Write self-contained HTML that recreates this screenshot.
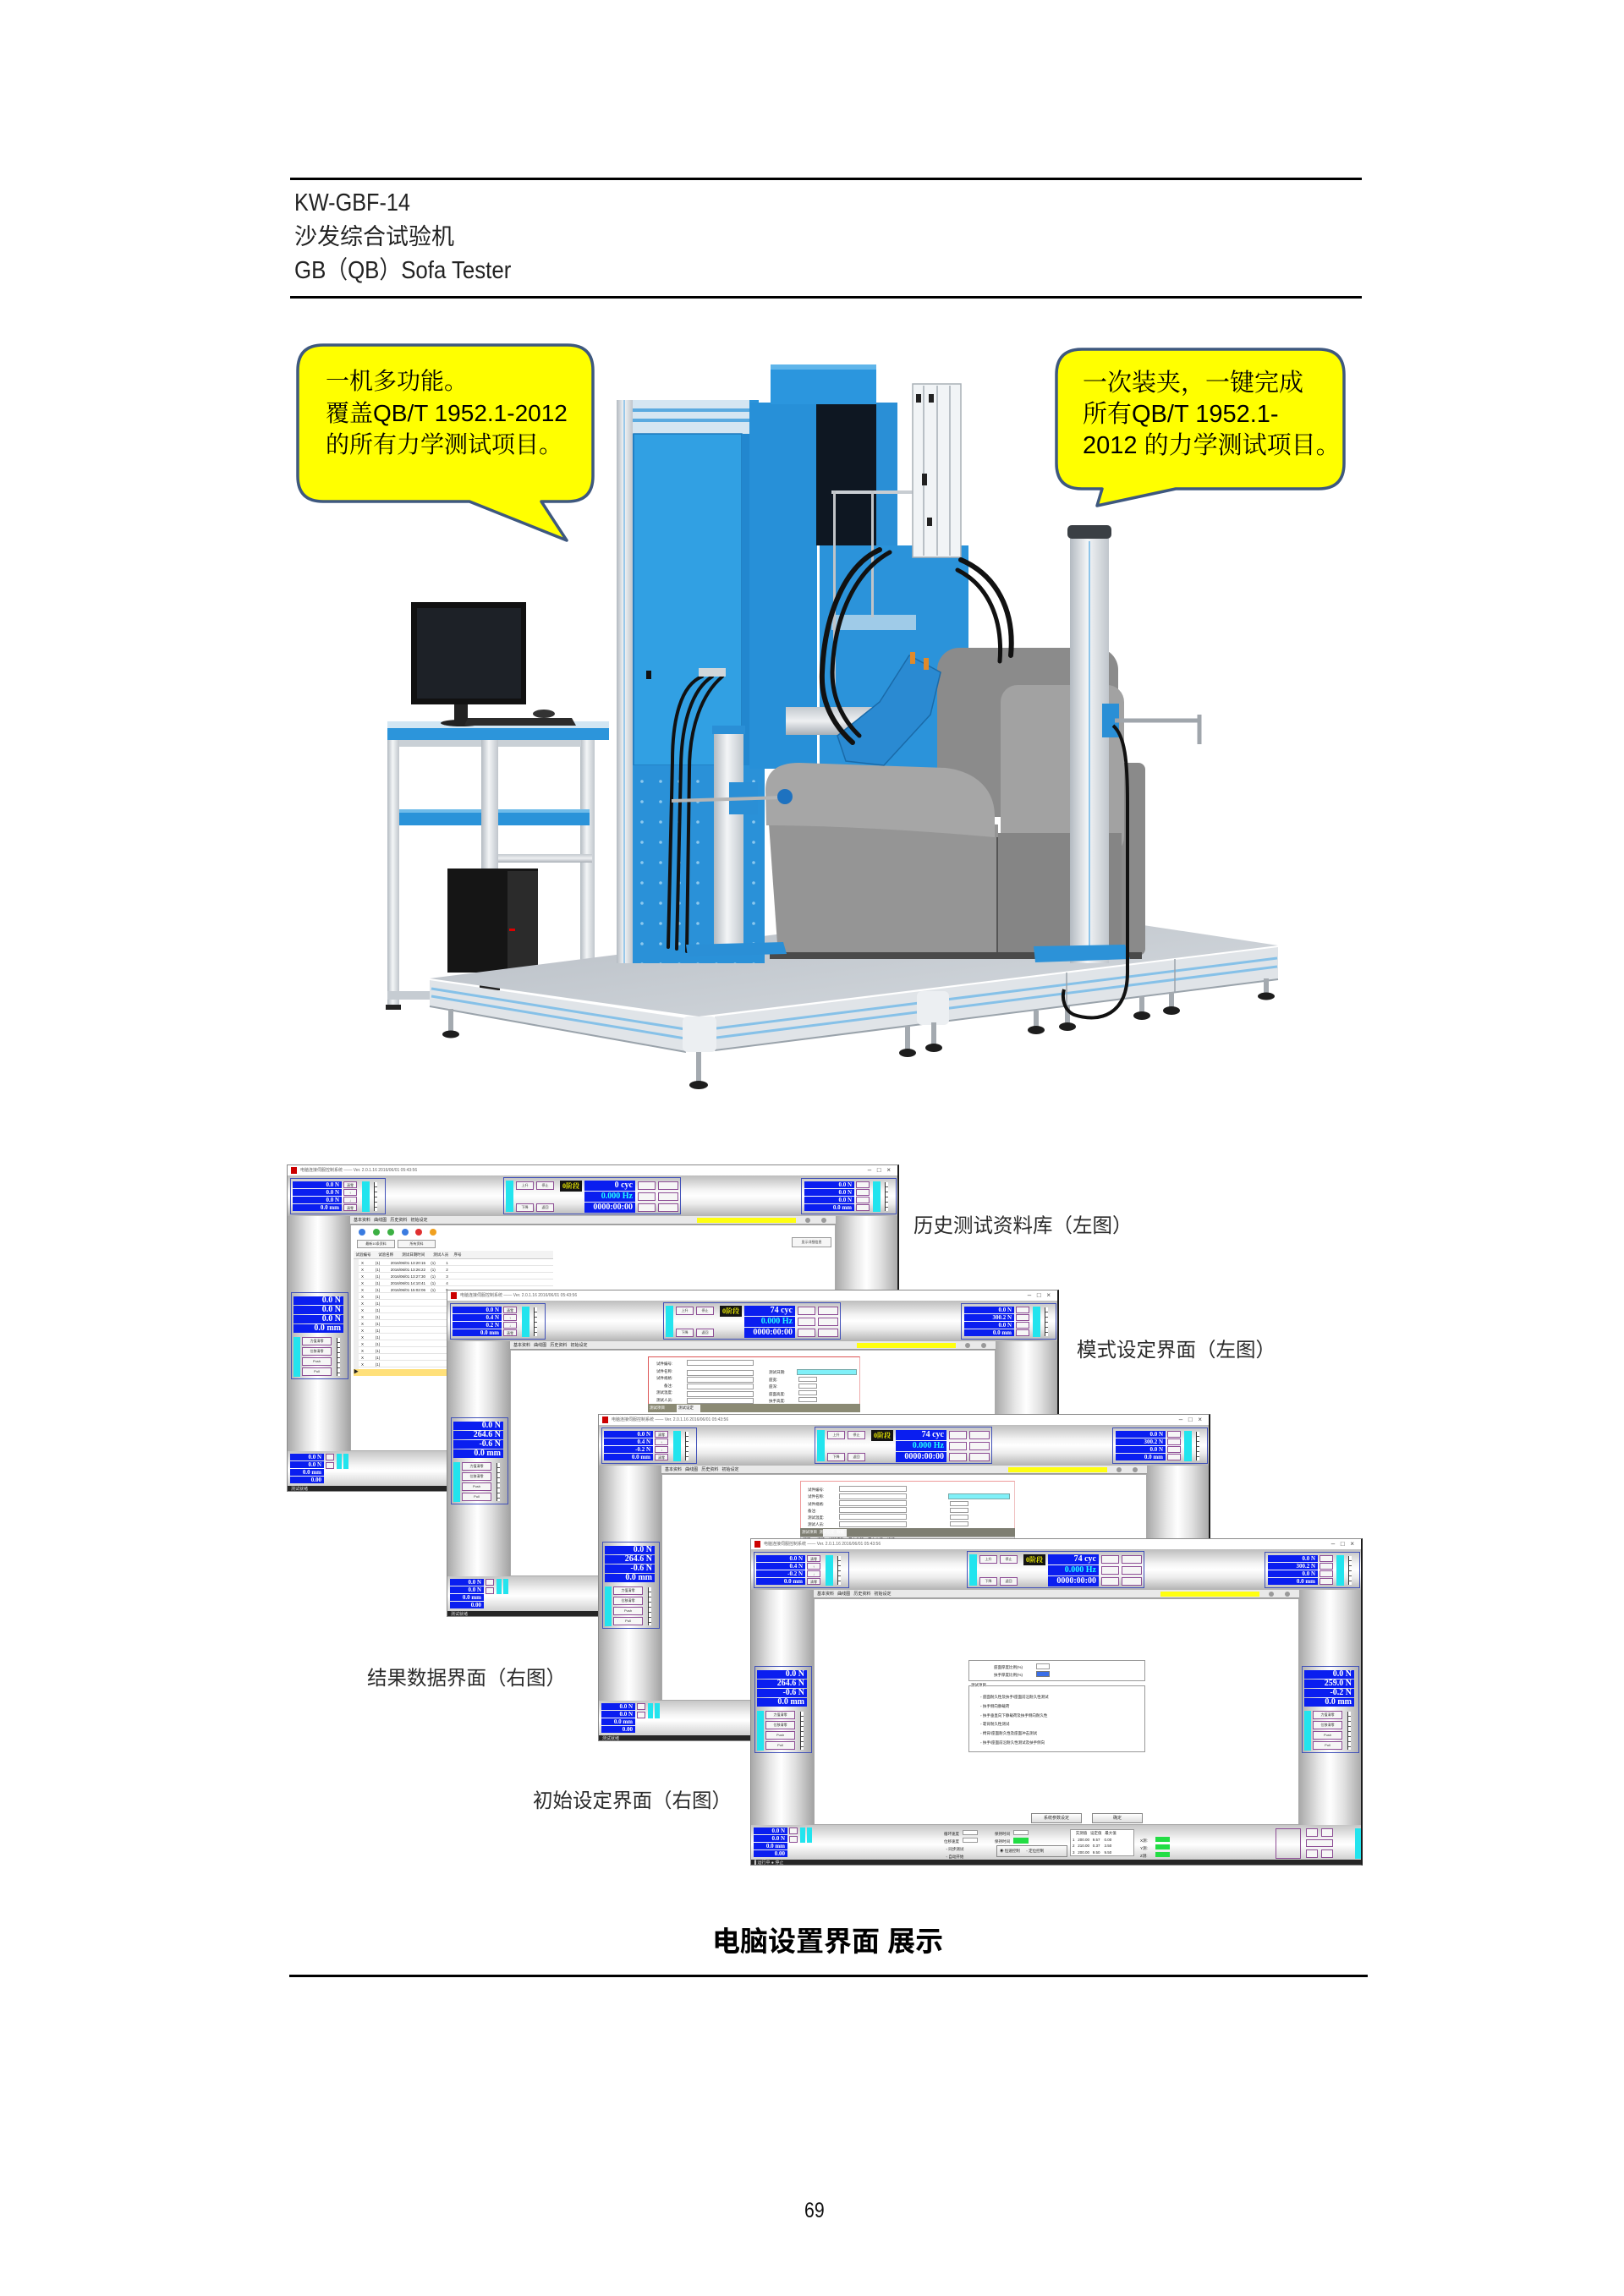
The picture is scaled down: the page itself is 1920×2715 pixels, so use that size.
<!DOCTYPE html>
<html><head><meta charset="utf-8">
<style>
html,body{margin:0;padding:0;background:#fff;}
body{width:1920px;height:2715px;position:relative;overflow:hidden;font-family:"Liberation Sans","Noto Sans CJK SC",sans-serif;}
.a{position:absolute;white-space:nowrap;}
.hl{position:absolute;left:343px;width:1267px;height:3px;background:#000;}
.ct1{font-family:"Liberation Sans","Noto Serif CJK SC",serif;color:#000;}
.lab{font-size:23.5px;line-height:30px;color:#2b2b2b;font-family:"Liberation Sans","Noto Sans CJK SC",sans-serif;}
/* screenshots */
.ss{position:absolute;width:724px;height:387px;background:#f2f2f2;overflow:hidden;border:1px solid #8a8a8a;border-right:2px solid #1c1c1c;box-sizing:border-box;font-family:"Liberation Sans","Noto Sans CJK SC",sans-serif;}
.ss div{position:absolute;box-sizing:border-box;}
.ss .tt{left:0;top:0;width:100%;height:12px;background:#fff;font-size:5px;line-height:12px;color:#666;padding-left:15px;white-space:nowrap;}
.ss .tt i{position:absolute;left:4px;top:2px;width:7px;height:8px;background:#c00;display:block;}
.ss .tt b{position:absolute;right:8px;top:0;font-weight:normal;font-size:8px;color:#444;}
.ss .tl{left:0;top:12px;width:100%;height:48px;background:linear-gradient(#bdbdbd,#f3f3f3 35%,#fff 50%,#ececec 70%,#b3b3b3);}
.ss .fr{border:1px solid #4050b8;}
.ss .q{display:flex;flex-direction:column;gap:1px;}
.ss .q p{margin:0;height:8px;background:#0a1ef0;color:#fff;font:bold 7px/8px "Liberation Serif",serif;text-align:right;padding-right:3px;}
.ss .Q p{height:10px;font-size:10px;line-height:10px;}
.ss .c{background:#22e4ee;}
.ss .b{background:#f6f6f6;border:1px solid #8d4d95;font-size:4px;line-height:7px;color:#333;text-align:center;overflow:hidden;}
.ss .k{background:#141414;color:#e8e800;font:bold 8px/13px "Liberation Serif","Noto Serif CJK SC",serif;text-align:center;}
.ss .v{background:#0a1ef0;color:#fff;font:bold 10px/12px "Liberation Serif",serif;text-align:right;padding-right:3px;}
.ss .sc{border-left:1px solid #333;background:repeating-linear-gradient(#fff 0 5px,#555 5px 6px);width:4px!important;}
.ss .tab{left:74px;top:60px;width:574px;height:10px;background:#e9e9e9;border-bottom:1px solid #999;font-size:5px;line-height:10px;padding-left:4px;color:#222;white-space:pre;}
.ss .y{background:#ffff10;}
.ss .dt{width:6px;height:6px;border-radius:50%;background:#999;}
.ss .lp{left:0;top:60px;width:74px;height:278px;background:linear-gradient(to right,#a9a9a9,#e6e6e6 30%,#fff 48%,#e0e0e0 70%,#a3a3a3);}
.ss .rp{left:648px;top:60px;width:76px;height:278px;background:linear-gradient(to right,#a9a9a9,#e6e6e6 30%,#fff 48%,#e0e0e0 70%,#a3a3a3);}
.ss .cn{left:74px;top:70px;width:574px;height:268px;background:#fff;border:1px solid #aaa;}
.ss .bb{left:0;top:338px;width:100%;height:42px;background:linear-gradient(#c6c6c6,#f5f5f5 40%,#fff 55%,#cecece);}
.ss .st{left:0;top:379px;width:100%;height:8px;background:#262626;color:#ddd;font-size:5px;line-height:8px;padding-left:4px;}
.ss .f{background:#fff;border:1px solid #9a9a9a;}
.ss .t{font-size:4.5px;line-height:6px;color:#222;white-space:pre;}
.ss .g{background:#22dd44;}
</style></head><body>

<!-- header -->
<div class="hl" style="top:210px"></div>
<div class="a" style="left:348px;top:224px;font-size:29px;line-height:32px;color:#222;transform:scaleX(.87);transform-origin:0 0;">KW-GBF-14</div>
<div class="a" style="left:348px;top:264px;font-size:27px;line-height:32px;color:#222;">沙发综合试验机</div>
<div class="a" style="left:348px;top:304px;font-size:29px;line-height:32px;color:#222;transform:scaleX(.89);transform-origin:0 0;">GB（QB）Sofa Tester</div>
<div class="hl" style="top:350px"></div>

<!-- photo + callouts -->
<svg style="position:absolute;left:0;top:0" width="1920" height="1320" viewBox="0 0 1920 1320">
<defs>
<linearGradient id="sil" x1="0" x2="1" y1="0" y2="0"><stop offset="0" stop-color="#b3bac1"/><stop offset=".45" stop-color="#f3f5f7"/><stop offset="1" stop-color="#c0c6cc"/></linearGradient>
<linearGradient id="silv" x1="0" x2="0" y1="0" y2="1"><stop offset="0" stop-color="#c3c9cf"/><stop offset=".5" stop-color="#eef0f2"/><stop offset="1" stop-color="#a8afb6"/></linearGradient>
<linearGradient id="plat" x1="0" x2="1" y1="0" y2="1"><stop offset="0" stop-color="#b6bcc3"/><stop offset="1" stop-color="#d6dbe0"/></linearGradient>
<linearGradient id="blu" x1="0" x2="1" y1="0" y2="0"><stop offset="0" stop-color="#2389d0"/><stop offset=".5" stop-color="#34a2e6"/><stop offset="1" stop-color="#2590d8"/></linearGradient>
<pattern id="dots" width="22" height="24" patternUnits="userSpaceOnUse"><circle cx="11" cy="12" r="1.8" fill="#8cc8ee"/></pattern>
</defs>

<!-- callouts -->
<path d="M382,408 H671 Q701,408 701,438 V563 Q701,593 671,593 H640 L670,639 L555,593 H382 Q352,593 352,563 V438 Q352,408 382,408 Z" fill="#ffff00" stroke="#3e587f" stroke-width="3.5" stroke-linejoin="round"/>
<path d="M1279,413 H1559 Q1589,413 1589,443 V548 Q1589,578 1559,578 H1390 L1297,598 L1303,578 H1279 Q1249,578 1249,548 V443 Q1249,413 1279,413 Z" fill="#ffff00" stroke="#3e587f" stroke-width="3.5" stroke-linejoin="round"/>

<!-- desk -->
<rect x="686" y="875" width="17" height="275" fill="url(#sil)"/>
<rect x="575" y="1010" width="125" height="10" fill="url(#silv)"/>
<rect x="472" y="875" width="215" height="8" fill="#c9d0d6"/>
<rect x="461" y="957" width="236" height="19" fill="#2a93d9"/>
<rect x="461" y="957" width="236" height="4" fill="#6fbbe9"/>
<rect x="458" y="875" width="14" height="315" fill="url(#sil)"/>
<rect x="569" y="875" width="20" height="292" fill="url(#sil)"/>
<rect x="458" y="1172" width="62" height="10" fill="#c6ccd2"/>
<rect x="456" y="1188" width="18" height="6" fill="#222"/>
<rect x="567" y="1165" width="24" height="6" fill="#222"/>
<rect x="458" y="853" width="262" height="8" fill="#d2e6f3"/>
<rect x="458" y="861" width="262" height="14" fill="#2c95db"/>
<!-- pc tower -->
<rect x="529" y="1027" width="107" height="123" fill="#151515"/>
<rect x="600" y="1030" width="36" height="118" fill="#2b2b2b"/>
<rect x="602" y="1098" width="7" height="3" fill="#d00"/>
<!-- monitor -->
<rect x="486" y="712" width="136" height="121" fill="#111"/>
<rect x="493" y="719" width="123" height="107" fill="#1d2127"/>
<rect x="537" y="833" width="16" height="20" fill="#222"/>
<ellipse cx="545" cy="855" rx="24" ry="4" fill="#222"/>
<polygon points="553,849 676,849 681,858 549,858" fill="#2b2b2b"/>
<ellipse cx="643" cy="844" rx="13" ry="5" fill="#333"/>

<!-- platform -->
<polygon points="508,1157 826,1202 1511,1118 1193,1070" fill="url(#plat)"/>
<polygon points="508,1159 811,1204 811,1244 508,1190" fill="#e0e4e8"/>
<line x1="510" y1="1169" x2="810" y2="1217" stroke="#86c1e8" stroke-width="3"/>
<line x1="510" y1="1178" x2="810" y2="1228" stroke="#86c1e8" stroke-width="3"/>
<line x1="508" y1="1190" x2="811" y2="1244" stroke="#9aa3ab" stroke-width="2"/>
<polygon points="845,1202 1511,1120 1511,1158 845,1242" fill="#e0e4e8"/>
<line x1="847" y1="1216" x2="1510" y2="1133" stroke="#86c1e8" stroke-width="3"/>
<line x1="847" y1="1227" x2="1510" y2="1143" stroke="#86c1e8" stroke-width="3"/>
<line x1="845" y1="1242" x2="1511" y2="1158" stroke="#9aa3ab" stroke-width="2"/>
<rect x="807" y="1202" width="40" height="42" rx="6" fill="#eceff2"/>
<rect x="1084" y="1172" width="38" height="40" rx="6" fill="#eceff2"/>
<line x1="1261" y1="1150" x2="1261" y2="1190" stroke="#9aa3ab" stroke-width="1.5"/>
<line x1="1389" y1="1134" x2="1389" y2="1174" stroke="#9aa3ab" stroke-width="1.5"/>
<!-- feet -->
<g fill="#a4aab0">
<rect x="530" y="1193" width="6" height="28"/><rect x="823" y="1244" width="6" height="38"/>
<rect x="1070" y="1213" width="6" height="30"/><rect x="1101" y="1209" width="6" height="28"/>
<rect x="1222" y="1195" width="6" height="22"/><rect x="1259" y="1190" width="6" height="23"/>
<rect x="1347" y="1178" width="6" height="22"/><rect x="1382" y="1173" width="6" height="20"/>
<rect x="1494" y="1157" width="6" height="20"/>
</g>
<g fill="#1d1d1d">
<ellipse cx="533" cy="1223" rx="10" ry="4.5"/><ellipse cx="826" cy="1283" rx="11" ry="5"/>
<ellipse cx="1073" cy="1245" rx="10" ry="5"/><ellipse cx="1104" cy="1239" rx="10" ry="5"/>
<ellipse cx="1225" cy="1218" rx="10" ry="5"/><ellipse cx="1262" cy="1214" rx="10" ry="5"/>
<ellipse cx="1350" cy="1201" rx="10" ry="5"/><ellipse cx="1385" cy="1195" rx="10" ry="5"/>
<ellipse cx="1497" cy="1178" rx="10" ry="4.5"/>
</g>

<!-- machine: left cabinet -->
<rect x="729" y="473" width="168" height="666" fill="#2a93da"/>
<rect x="748" y="473" width="138" height="40" fill="#d5e6f2"/>
<rect x="748" y="483" width="138" height="4" fill="#5aaae0"/>
<rect x="748" y="495" width="138" height="4" fill="#5aaae0"/>
<rect x="749" y="513" width="128" height="392" fill="#31a0e3" stroke="#1d79bd" stroke-width="1.5"/>
<rect x="877" y="513" width="20" height="396" fill="#2287cf"/>
<rect x="729" y="905" width="175" height="234" fill="#2a91d8"/>
<rect x="748" y="905" width="156" height="234" fill="url(#dots)"/>
<rect x="729" y="473" width="19" height="666" fill="url(#sil)"/>
<line x1="738" y1="473" x2="738" y2="1139" stroke="#7dbbe6" stroke-width="1.5"/>
<rect x="764" y="793" width="6" height="10" fill="#111"/>
<!-- column -->
<rect x="886" y="476" width="80" height="433" fill="#2790d8"/>
<rect x="911" y="431" width="125" height="47" fill="#2b96de"/>
<rect x="911" y="431" width="125" height="6" fill="#5fb5ea"/>
<rect x="965" y="478" width="72" height="167" fill="#0e1722"/>
<rect x="1036" y="476" width="25" height="170" fill="#2a8fd6"/>
<rect x="969" y="645" width="176" height="264" fill="#2b93da"/>
<rect x="983" y="727" width="100" height="18" fill="#9fcbe8"/>
<rect x="983" y="580" width="100" height="4" fill="#c8cdd2"/>
<rect x="985" y="580" width="3" height="235" fill="#c0c4c8"/>
<rect x="1030" y="580" width="3" height="150" fill="#c0c4c8"/>
<rect x="929" y="836" width="132" height="33" fill="url(#silv)"/>
<!-- acrylic column -->
<rect x="1079" y="454" width="57" height="205" fill="#f1f4f6" stroke="#a9b0b6" stroke-width="1.5"/>
<line x1="1092" y1="456" x2="1092" y2="657" stroke="#b9c0c6" stroke-width="2"/>
<line x1="1108" y1="456" x2="1108" y2="657" stroke="#b9c0c6" stroke-width="2"/>
<line x1="1123" y1="456" x2="1123" y2="657" stroke="#b9c0c6" stroke-width="2"/>
<rect x="1083" y="466" width="6" height="10" fill="#222"/><rect x="1098" y="466" width="6" height="10" fill="#222"/>
<rect x="1090" y="560" width="6" height="14" fill="#222"/><rect x="1096" y="612" width="6" height="10" fill="#222"/>

<!-- sofa -->
<rect x="1108" y="766" width="214" height="200" rx="26" fill="#8b8b8b"/>
<rect x="1320" y="902" width="34" height="228" rx="8" fill="#8a8a8a"/>
<rect x="1183" y="810" width="146" height="200" rx="20" fill="#a2a2a2"/>
<rect x="1176" y="985" width="150" height="145" fill="#858585"/>
<polygon points="908,960 1180,975 1180,1133 920,1130" fill="#959595"/>
<path d="M905,935 C905,913 918,902 945,902 L1118,908 C1152,912 1176,932 1176,965 L1176,990 C1120,985 1000,976 906,976 Z" fill="#a6a6a6"/>
<line x1="1179" y1="990" x2="1179" y2="1128" stroke="#555" stroke-width="2"/>
<rect x="910" y="1126" width="440" height="8" fill="#4a4a4a"/>

<!-- arm mechanism & hoses -->
<polygon points="1075,775 1112,795 1100,845 1045,905 1000,900 990,870 1040,830" fill="#2a8ad2" stroke="#1a6aa8" stroke-width="1.5"/>
<rect x="1076" y="771" width="6" height="14" fill="#e08a2a"/><rect x="1092" y="778" width="6" height="14" fill="#e08a2a"/>
<g fill="none" stroke="#111" stroke-linecap="round">
<path d="M1040,650 C1000,668 975,725 972,795 C970,835 990,862 1008,878" stroke-width="6"/>
<path d="M1052,653 C1012,675 986,728 984,795 C984,830 1000,855 1016,870" stroke-width="5"/>
<path d="M1136,662 C1178,680 1200,722 1195,775" stroke-width="6"/>
<path d="M1132,674 C1168,692 1186,732 1182,782" stroke-width="5"/>
<path d="M830,800 C805,810 795,850 795,900 L790,1120" stroke-width="4"/>
<path d="M842,800 C818,815 806,855 805,905 L800,1122" stroke-width="4"/>
<path d="M854,800 C830,820 815,860 815,910 L812,1125" stroke-width="4"/>
</g>
<rect x="826" y="790" width="32" height="10" fill="#d0d6da"/>

<!-- left small post -->
<rect x="844" y="864" width="35" height="258" fill="url(#sil)"/>
<rect x="842" y="858" width="39" height="10" fill="#2a8fd6"/>
<rect x="862" y="925" width="34" height="38" fill="#2a8fd6"/>
<polygon points="811,1117 926,1114 930,1128 813,1131" fill="#2a8fd6"/>
<line x1="794" y1="947" x2="925" y2="943" stroke="#b5b5b5" stroke-width="4"/>
<circle cx="928" cy="942" r="9" fill="#1e72c0"/>

<!-- right post -->
<rect x="1265" y="625" width="46" height="514" fill="url(#sil)"/>
<line x1="1288" y1="640" x2="1288" y2="1135" stroke="#8ec5ea" stroke-width="2"/>
<rect x="1262" y="621" width="52" height="16" rx="5" fill="#3a3f44"/>
<rect x="1303" y="832" width="20" height="40" fill="#2a8fd6"/>
<line x1="1318" y1="852" x2="1418" y2="852" stroke="#a0a6ac" stroke-width="5"/>
<line x1="1418" y1="845" x2="1418" y2="880" stroke="#a0a6ac" stroke-width="5"/>
<polygon points="1222,1119 1330,1117 1336,1134 1224,1138" fill="#2c92d8"/>
<path d="M1316,858 C1330,870 1333,900 1333,950 L1333,1150 C1333,1200 1300,1210 1270,1200 C1258,1195 1255,1180 1258,1170" fill="none" stroke="#111" stroke-width="4"/>
</svg>

<!-- callout text -->
<div class="a ct1" style="left:385px;top:432px;font-size:28px;line-height:37.5px;">一机多功能。<br>覆盖QB/T 1952.1-2012<br>的所有力学测试项目。</div>
<div class="a ct1" style="left:1280px;top:435px;font-size:29px;line-height:37px;">一次装夹，一键完成<br>所有QB/T 1952.1-<br>2012 的力学测试项目。</div>

<!-- ============ SCREENSHOT 1 ============ -->
<div class="ss" style="left:339px;top:1377px">
<div class="tt"><i></i>电脑连接伺服控制系统 —— Ver. 2.0.1.16 2016/06/01 05:43:56<b>–&nbsp;&nbsp;&nbsp;□&nbsp;&nbsp;&nbsp;×</b></div>
<div class="tl"></div>
<div class="fr" style="left:3px;top:15px;width:113px;height:43px"></div>
<div class="q" style="left:6px;top:19px;width:58px"><p>0.0 N</p><p>0.0 N</p><p>0.0 N</p><p>0.0 mm</p></div>
<div class="b" style="left:66px;top:19px;width:16px;height:8px">清零</div><div class="b" style="left:66px;top:28px;width:16px;height:8px">↑</div><div class="b" style="left:66px;top:37px;width:16px;height:8px">↓</div><div class="b" style="left:66px;top:46px;width:16px;height:8px">清零</div>
<div class="c" style="left:88px;top:19px;width:9px;height:36px"></div>
<div class="sc" style="left:102px;top:20px;height:34px"></div>
<div class="fr" style="left:255px;top:14px;width:210px;height:44px"></div>
<div class="c" style="left:258px;top:18px;width:9px;height:37px"></div>
<div class="b" style="left:270px;top:19px;width:21px;height:10px">上升</div><div class="b" style="left:294px;top:19px;width:21px;height:10px">停止</div>
<div class="b" style="left:270px;top:45px;width:21px;height:10px">下降</div><div class="b" style="left:294px;top:45px;width:21px;height:10px">返回</div>
<div class="k" style="left:322px;top:18px;width:26px;height:13px">0阶段</div>
<div class="v" style="left:351px;top:18px;width:60px;height:12px">0 cyc</div>
<div class="v" style="left:351px;top:31px;width:60px;height:12px;color:#2ff">0.000 Hz</div>
<div class="v" style="left:351px;top:44px;width:60px;height:12px">0000:00:00</div>
<div class="b" style="left:414px;top:19px;width:21px;height:10px"></div><div class="b" style="left:438px;top:19px;width:24px;height:10px"></div>
<div class="b" style="left:414px;top:32px;width:21px;height:10px"></div><div class="b" style="left:438px;top:32px;width:24px;height:10px"></div>
<div class="b" style="left:414px;top:45px;width:21px;height:10px"></div><div class="b" style="left:438px;top:45px;width:24px;height:10px"></div>
<div class="fr" style="left:607px;top:15px;width:113px;height:43px"></div>
<div class="q" style="left:611px;top:19px;width:59px"><p>0.0 N</p><p>0.0 N</p><p>0.0 N</p><p>0.0 mm</p></div>
<div class="b" style="left:672px;top:19px;width:16px;height:8px"></div><div class="b" style="left:672px;top:28px;width:16px;height:8px"></div><div class="b" style="left:672px;top:37px;width:16px;height:8px"></div><div class="b" style="left:672px;top:46px;width:16px;height:8px"></div>
<div class="c" style="left:692px;top:19px;width:9px;height:36px"></div>
<div class="sc" style="left:706px;top:20px;height:34px"></div>
<div class="tab">基本资料   曲线图   历史资料   初始设定</div>
<div class="y" style="left:484px;top:62px;width:117px;height:6px"></div>
<div class="dt" style="left:612px;top:62px"></div><div class="dt" style="left:631px;top:62px"></div>
<div class="lp"></div><div class="rp"></div>
<div class="cn">
 <div style="left:9px;top:4px;width:8px;height:8px;border-radius:50%;background:#3a7be0"></div>
 <div style="left:26px;top:4px;width:8px;height:8px;border-radius:50%;background:#3cb043"></div>
 <div style="left:43px;top:4px;width:8px;height:8px;border-radius:50%;background:#3cb043"></div>
 <div style="left:60px;top:4px;width:8px;height:8px;border-radius:50%;background:#3a7be0"></div>
 <div style="left:76px;top:4px;width:8px;height:8px;border-radius:50%;background:#e03030"></div>
 <div style="left:93px;top:4px;width:8px;height:8px;border-radius:50%;background:#f0a020"></div>
 <div class="b" style="left:7px;top:17px;width:45px;height:10px;border-color:#999">最新10条资料</div>
 <div class="b" style="left:55px;top:17px;width:45px;height:10px;border-color:#999">所有资料</div>
 <div class="t" style="left:3px;top:30px;width:236px;height:10px;background:#f3f3f3;border-bottom:1px solid #ccc;line-height:10px">  试验编号       试验名称        测试日期时间        测试人员     序号</div>
 <div style="left:3px;top:40px;width:236px;height:136px;background:repeating-linear-gradient(#fff 0 7px,#e4e4e4 7px 8px)"></div>
 <div style="left:3px;top:40px;width:6px;height:136px;background:#eee"></div>
 <div class="t" style="left:12px;top:41px;line-height:8px">X           (1)          2016/06/01 13:20:15     (1)          1
X           (1)          2016/06/01 13:26:22     (1)          2
X           (1)          2016/06/01 13:27:30     (1)          3
X           (1)          2016/06/01 14:10:41     (1)          4
X           (1)          2016/06/01 15:02:06     (1)          5
X           (1)
X           (1)
X           (1)
X           (1)
X           (1)
X           (1)
X           (1)
X           (1)
X           (1)
X           (1)
X           (1)</div>
 <div style="left:3px;top:170px;width:236px;height:8px;background:#ffe07a"></div>
 <div class="t" style="left:3px;top:171px;font-size:6px">▶</div>
 <div class="b" style="left:521px;top:14px;width:47px;height:12px;border-color:#999;line-height:10px">显示详细信息</div>
</div>
<div class="fr" style="left:4px;top:150px;width:68px;height:103px"></div>
<div class="q Q" style="left:7px;top:155px;width:59px"><p>0.0 N</p><p>0.0 N</p><p>0.0 N</p><p>0.0 mm</p></div>
<div class="c" style="left:7px;top:203px;width:8px;height:47px"></div>
<div class="b" style="left:17px;top:203px;width:35px;height:10px">力值清零</div><div class="b" style="left:17px;top:215px;width:35px;height:10px">位移清零</div><div class="b" style="left:17px;top:227px;width:35px;height:10px">Push</div><div class="b" style="left:17px;top:239px;width:35px;height:10px">Pull</div>
<div class="sc" style="left:58px;top:204px;height:45px"></div>
<div class="fr" style="left:651px;top:150px;width:68px;height:103px"></div>
<div class="q Q" style="left:654px;top:155px;width:59px"><p>0.0 N</p><p>0.0 N</p><p>0.0 N</p><p>0.0 mm</p></div>
<div class="c" style="left:654px;top:203px;width:8px;height:47px"></div>
<div class="b" style="left:664px;top:203px;width:35px;height:10px"></div><div class="b" style="left:664px;top:215px;width:35px;height:10px"></div><div class="b" style="left:664px;top:227px;width:35px;height:10px"></div><div class="b" style="left:664px;top:239px;width:35px;height:10px"></div>
<div class="sc" style="left:705px;top:204px;height:45px"></div>
<div class="bb"></div>
<div class="q" style="left:3px;top:341px;width:40px"><p>0.0 N</p><p>0.0 N</p><p>0.0 mm</p><p>0.00</p></div>
<div class="b" style="left:45px;top:341px;width:10px;height:8px"></div><div class="b" style="left:45px;top:351px;width:10px;height:8px"></div>
<div class="c" style="left:58px;top:341px;width:6px;height:18px"></div><div class="c" style="left:66px;top:341px;width:6px;height:18px"></div>
<div class="st">测试就绪</div>
</div>

<!-- ============ SCREENSHOT 2 ============ -->
<div class="ss" style="left:528px;top:1525px">
<div class="tt"><i></i>电脑连接伺服控制系统 —— Ver. 2.0.1.16 2016/06/01 05:43:56<b>–&nbsp;&nbsp;&nbsp;□&nbsp;&nbsp;&nbsp;×</b></div>
<div class="tl"></div>
<div class="fr" style="left:3px;top:15px;width:113px;height:43px"></div>
<div class="q" style="left:6px;top:19px;width:58px"><p>0.0 N</p><p>0.4 N</p><p>0.2 N</p><p>0.0 mm</p></div>
<div class="b" style="left:66px;top:19px;width:16px;height:8px">清零</div><div class="b" style="left:66px;top:28px;width:16px;height:8px">↑</div><div class="b" style="left:66px;top:37px;width:16px;height:8px">↓</div><div class="b" style="left:66px;top:46px;width:16px;height:8px">清零</div>
<div class="c" style="left:88px;top:19px;width:9px;height:36px"></div>
<div class="sc" style="left:102px;top:20px;height:34px"></div>
<div class="fr" style="left:255px;top:14px;width:210px;height:44px"></div>
<div class="c" style="left:258px;top:18px;width:9px;height:37px"></div>
<div class="b" style="left:270px;top:19px;width:21px;height:10px">上升</div><div class="b" style="left:294px;top:19px;width:21px;height:10px">停止</div>
<div class="b" style="left:270px;top:45px;width:21px;height:10px">下降</div><div class="b" style="left:294px;top:45px;width:21px;height:10px">返回</div>
<div class="k" style="left:322px;top:18px;width:26px;height:13px">0阶段</div>
<div class="v" style="left:351px;top:18px;width:60px;height:12px">74 cyc</div>
<div class="v" style="left:351px;top:31px;width:60px;height:12px;color:#2ff">0.000 Hz</div>
<div class="v" style="left:351px;top:44px;width:60px;height:12px">0000:00:00</div>
<div class="b" style="left:414px;top:19px;width:21px;height:10px"></div><div class="b" style="left:438px;top:19px;width:24px;height:10px"></div>
<div class="b" style="left:414px;top:32px;width:21px;height:10px"></div><div class="b" style="left:438px;top:32px;width:24px;height:10px"></div>
<div class="b" style="left:414px;top:45px;width:21px;height:10px"></div><div class="b" style="left:438px;top:45px;width:24px;height:10px"></div>
<div class="fr" style="left:607px;top:15px;width:113px;height:43px"></div>
<div class="q" style="left:611px;top:19px;width:59px"><p>0.0 N</p><p>300.2 N</p><p>0.0 N</p><p>0.0 mm</p></div>
<div class="b" style="left:672px;top:19px;width:16px;height:8px"></div><div class="b" style="left:672px;top:28px;width:16px;height:8px"></div><div class="b" style="left:672px;top:37px;width:16px;height:8px"></div><div class="b" style="left:672px;top:46px;width:16px;height:8px"></div>
<div class="c" style="left:692px;top:19px;width:9px;height:36px"></div>
<div class="sc" style="left:706px;top:20px;height:34px"></div>
<div class="tab">基本资料   曲线图   历史资料   初始设定</div>
<div class="y" style="left:484px;top:62px;width:117px;height:6px"></div>
<div class="dt" style="left:612px;top:62px"></div><div class="dt" style="left:631px;top:62px"></div>
<div class="lp"></div><div class="rp"></div>
<div class="cn">
 <div style="left:162px;top:7px;width:251px;height:57px;border-top:1px solid #d55;border-left:1px solid #d55;border-right:1px solid #eaa"></div>
 <div class="f" style="left:208px;top:11px;width:79px;height:7px"></div>
 <div class="f" style="left:208px;top:23px;width:79px;height:7px"></div>
 <div class="f" style="left:208px;top:31px;width:79px;height:7px"></div>
 <div class="f" style="left:208px;top:39px;width:79px;height:7px"></div>
 <div class="f" style="left:208px;top:48px;width:79px;height:7px"></div>
 <div class="f" style="left:208px;top:56px;width:79px;height:7px"></div>
 <div class="t" style="left:172px;top:12px;line-height:8.5px;text-align:right">试件编号:
试件名称:
试件规格:
备注:
测试温度:
测试人员:</div>
 <div style="left:338px;top:22px;width:71px;height:7px;background:#80f0f8;border:1px solid #7aa"></div>
 <div class="f" style="left:340px;top:31px;width:22px;height:6px"></div>
 <div class="f" style="left:340px;top:39px;width:22px;height:6px"></div>
 <div class="f" style="left:340px;top:47px;width:22px;height:6px"></div>
 <div class="f" style="left:340px;top:55px;width:22px;height:6px"></div>
 <div class="t" style="left:305px;top:22px;line-height:8.5px">测试日期:
座宽:
座深:
座面高度:
扶手高度:</div>
 <div style="left:162px;top:63px;width:251px;height:10px;background:#8b8a74"></div>
 <div class="t" style="left:164px;top:65px;color:#fff">测试项目</div>
 <div style="left:196px;top:64px;width:28px;height:9px;background:#f4f4f4"></div>
 <div class="t" style="left:198px;top:65px">测试设定</div>
</div>
<div class="fr" style="left:4px;top:150px;width:68px;height:103px"></div>
<div class="q Q" style="left:7px;top:155px;width:59px"><p>0.0 N</p><p>264.6 N</p><p>-0.6 N</p><p>0.0 mm</p></div>
<div class="c" style="left:7px;top:203px;width:8px;height:47px"></div>
<div class="b" style="left:17px;top:203px;width:35px;height:10px">力值清零</div><div class="b" style="left:17px;top:215px;width:35px;height:10px">位移清零</div><div class="b" style="left:17px;top:227px;width:35px;height:10px">Push</div><div class="b" style="left:17px;top:239px;width:35px;height:10px">Pull</div>
<div class="sc" style="left:58px;top:204px;height:45px"></div>
<div class="fr" style="left:651px;top:150px;width:68px;height:103px"></div>
<div class="q Q" style="left:654px;top:155px;width:59px"><p>0.0 N</p><p>259.0 N</p><p>-0.2 N</p><p>0.0 mm</p></div>
<div class="c" style="left:654px;top:203px;width:8px;height:47px"></div>
<div class="b" style="left:664px;top:203px;width:35px;height:10px"></div><div class="b" style="left:664px;top:215px;width:35px;height:10px"></div><div class="b" style="left:664px;top:227px;width:35px;height:10px"></div><div class="b" style="left:664px;top:239px;width:35px;height:10px"></div>
<div class="sc" style="left:705px;top:204px;height:45px"></div>
<div class="bb"></div>
<div class="q" style="left:3px;top:341px;width:40px"><p>0.0 N</p><p>0.0 N</p><p>0.0 mm</p><p>0.00</p></div>
<div class="b" style="left:45px;top:341px;width:10px;height:8px"></div><div class="b" style="left:45px;top:351px;width:10px;height:8px"></div>
<div class="c" style="left:58px;top:341px;width:6px;height:18px"></div><div class="c" style="left:66px;top:341px;width:6px;height:18px"></div>
<div class="st">测试就绪</div>
</div>

<!-- ============ SCREENSHOT 3 ============ -->
<div class="ss" style="left:707px;top:1672px">
<div class="tt"><i></i>电脑连接伺服控制系统 —— Ver. 2.0.1.16 2016/06/01 05:43:56<b>–&nbsp;&nbsp;&nbsp;□&nbsp;&nbsp;&nbsp;×</b></div>
<div class="tl"></div>
<div class="fr" style="left:3px;top:15px;width:113px;height:43px"></div>
<div class="q" style="left:6px;top:19px;width:58px"><p>0.0 N</p><p>0.4 N</p><p>-0.2 N</p><p>0.0 mm</p></div>
<div class="b" style="left:66px;top:19px;width:16px;height:8px">清零</div><div class="b" style="left:66px;top:28px;width:16px;height:8px">↑</div><div class="b" style="left:66px;top:37px;width:16px;height:8px">↓</div><div class="b" style="left:66px;top:46px;width:16px;height:8px">清零</div>
<div class="c" style="left:88px;top:19px;width:9px;height:36px"></div>
<div class="sc" style="left:102px;top:20px;height:34px"></div>
<div class="fr" style="left:255px;top:14px;width:210px;height:44px"></div>
<div class="c" style="left:258px;top:18px;width:9px;height:37px"></div>
<div class="b" style="left:270px;top:19px;width:21px;height:10px">上升</div><div class="b" style="left:294px;top:19px;width:21px;height:10px">停止</div>
<div class="b" style="left:270px;top:45px;width:21px;height:10px">下降</div><div class="b" style="left:294px;top:45px;width:21px;height:10px">返回</div>
<div class="k" style="left:322px;top:18px;width:26px;height:13px">0阶段</div>
<div class="v" style="left:351px;top:18px;width:60px;height:12px">74 cyc</div>
<div class="v" style="left:351px;top:31px;width:60px;height:12px;color:#2ff">0.000 Hz</div>
<div class="v" style="left:351px;top:44px;width:60px;height:12px">0000:00:00</div>
<div class="b" style="left:414px;top:19px;width:21px;height:10px"></div><div class="b" style="left:438px;top:19px;width:24px;height:10px"></div>
<div class="b" style="left:414px;top:32px;width:21px;height:10px"></div><div class="b" style="left:438px;top:32px;width:24px;height:10px"></div>
<div class="b" style="left:414px;top:45px;width:21px;height:10px"></div><div class="b" style="left:438px;top:45px;width:24px;height:10px"></div>
<div class="fr" style="left:607px;top:15px;width:113px;height:43px"></div>
<div class="q" style="left:611px;top:19px;width:59px"><p>0.0 N</p><p>300.2 N</p><p>0.0 N</p><p>0.0 mm</p></div>
<div class="b" style="left:672px;top:19px;width:16px;height:8px"></div><div class="b" style="left:672px;top:28px;width:16px;height:8px"></div><div class="b" style="left:672px;top:37px;width:16px;height:8px"></div><div class="b" style="left:672px;top:46px;width:16px;height:8px"></div>
<div class="c" style="left:692px;top:19px;width:9px;height:36px"></div>
<div class="sc" style="left:706px;top:20px;height:34px"></div>
<div class="tab">基本资料   曲线图   历史资料   初始设定</div>
<div class="y" style="left:484px;top:62px;width:117px;height:6px"></div>
<div class="dt" style="left:612px;top:62px"></div><div class="dt" style="left:631px;top:62px"></div>
<div class="lp"></div><div class="rp"></div>
<div class="cn">
 <div style="left:163px;top:7px;width:254px;height:56px;border-top:1px solid #e99;border-left:1px solid #e99;border-right:1px solid #f0c0c0"></div>
 <div class="f" style="left:209px;top:13px;width:80px;height:7px"></div>
 <div class="f" style="left:209px;top:22px;width:80px;height:7px"></div>
 <div class="f" style="left:209px;top:30px;width:80px;height:7px"></div>
 <div class="f" style="left:209px;top:38px;width:80px;height:7px"></div>
 <div class="f" style="left:209px;top:46px;width:80px;height:7px"></div>
 <div class="f" style="left:209px;top:55px;width:80px;height:7px"></div>
 <div class="t" style="left:172px;top:14px;line-height:8.3px">试件编号:
试件名称:
试件规格:
备注:
测试温度:
测试人员:</div>
 <div style="left:338px;top:22px;width:73px;height:7px;background:#80f0f8;border:1px solid #7aa"></div>
 <div class="f" style="left:340px;top:31px;width:22px;height:6px"></div>
 <div class="f" style="left:340px;top:39px;width:22px;height:6px"></div>
 <div class="f" style="left:340px;top:47px;width:22px;height:6px"></div>
 <div class="f" style="left:340px;top:55px;width:22px;height:6px"></div>
 <div style="left:163px;top:63px;width:254px;height:10px;background:#7e7e72"></div>
 <div style="left:190px;top:64px;width:28px;height:9px;background:#f4f4f4"></div>
 <div class="t" style="left:165px;top:65px;color:#fff">测试项目  测试设定  数据</div>
 <div class="t" style="left:163px;top:73px;width:254px;height:7px;background:#efefef;border:1px solid #bbb">  项目      初值    试验次数    最大位移    最大力值    均值</div>
</div>
<div class="fr" style="left:4px;top:150px;width:68px;height:103px"></div>
<div class="q Q" style="left:7px;top:155px;width:59px"><p>0.0 N</p><p>264.6 N</p><p>-0.6 N</p><p>0.0 mm</p></div>
<div class="c" style="left:7px;top:203px;width:8px;height:47px"></div>
<div class="b" style="left:17px;top:203px;width:35px;height:10px">力值清零</div><div class="b" style="left:17px;top:215px;width:35px;height:10px">位移清零</div><div class="b" style="left:17px;top:227px;width:35px;height:10px">Push</div><div class="b" style="left:17px;top:239px;width:35px;height:10px">Pull</div>
<div class="sc" style="left:58px;top:204px;height:45px"></div>
<div class="fr" style="left:651px;top:150px;width:68px;height:103px"></div>
<div class="q Q" style="left:654px;top:155px;width:59px"><p>0.0 N</p><p>259.0 N</p><p>-0.2 N</p><p>0.0 mm</p></div>
<div class="c" style="left:654px;top:203px;width:8px;height:47px"></div>
<div class="b" style="left:664px;top:203px;width:35px;height:10px"></div><div class="b" style="left:664px;top:215px;width:35px;height:10px"></div><div class="b" style="left:664px;top:227px;width:35px;height:10px"></div><div class="b" style="left:664px;top:239px;width:35px;height:10px"></div>
<div class="sc" style="left:705px;top:204px;height:45px"></div>
<div class="bb"></div>
<div class="q" style="left:3px;top:341px;width:40px"><p>0.0 N</p><p>0.0 N</p><p>0.0 mm</p><p>0.00</p></div>
<div class="b" style="left:45px;top:341px;width:10px;height:8px"></div><div class="b" style="left:45px;top:351px;width:10px;height:8px"></div>
<div class="c" style="left:58px;top:341px;width:6px;height:18px"></div><div class="c" style="left:66px;top:341px;width:6px;height:18px"></div>
<div class="st">测试就绪</div>
</div>

<!-- ============ SCREENSHOT 4 ============ -->
<div class="ss" style="left:887px;top:1819px">
<div class="tt"><i></i>电脑连接伺服控制系统 —— Ver. 2.0.1.16 2016/06/01 05:43:56<b>–&nbsp;&nbsp;&nbsp;□&nbsp;&nbsp;&nbsp;×</b></div>
<div class="tl"></div>
<div class="fr" style="left:3px;top:15px;width:113px;height:43px"></div>
<div class="q" style="left:6px;top:19px;width:58px"><p>0.0 N</p><p>0.4 N</p><p>-0.2 N</p><p>0.0 mm</p></div>
<div class="b" style="left:66px;top:19px;width:16px;height:8px">清零</div><div class="b" style="left:66px;top:28px;width:16px;height:8px">↑</div><div class="b" style="left:66px;top:37px;width:16px;height:8px">↓</div><div class="b" style="left:66px;top:46px;width:16px;height:8px">清零</div>
<div class="c" style="left:88px;top:19px;width:9px;height:36px"></div>
<div class="sc" style="left:102px;top:20px;height:34px"></div>
<div class="fr" style="left:255px;top:14px;width:210px;height:44px"></div>
<div class="c" style="left:258px;top:18px;width:9px;height:37px"></div>
<div class="b" style="left:270px;top:19px;width:21px;height:10px">上升</div><div class="b" style="left:294px;top:19px;width:21px;height:10px">停止</div>
<div class="b" style="left:270px;top:45px;width:21px;height:10px">下降</div><div class="b" style="left:294px;top:45px;width:21px;height:10px">返回</div>
<div class="k" style="left:322px;top:18px;width:26px;height:13px">0阶段</div>
<div class="v" style="left:351px;top:18px;width:60px;height:12px">74 cyc</div>
<div class="v" style="left:351px;top:31px;width:60px;height:12px;color:#2ff">0.000 Hz</div>
<div class="v" style="left:351px;top:44px;width:60px;height:12px">0000:00:00</div>
<div class="b" style="left:414px;top:19px;width:21px;height:10px"></div><div class="b" style="left:438px;top:19px;width:24px;height:10px"></div>
<div class="b" style="left:414px;top:32px;width:21px;height:10px"></div><div class="b" style="left:438px;top:32px;width:24px;height:10px"></div>
<div class="b" style="left:414px;top:45px;width:21px;height:10px"></div><div class="b" style="left:438px;top:45px;width:24px;height:10px"></div>
<div class="fr" style="left:607px;top:15px;width:113px;height:43px"></div>
<div class="q" style="left:611px;top:19px;width:59px"><p>0.0 N</p><p>300.2 N</p><p>0.0 N</p><p>0.0 mm</p></div>
<div class="b" style="left:672px;top:19px;width:16px;height:8px"></div><div class="b" style="left:672px;top:28px;width:16px;height:8px"></div><div class="b" style="left:672px;top:37px;width:16px;height:8px"></div><div class="b" style="left:672px;top:46px;width:16px;height:8px"></div>
<div class="c" style="left:692px;top:19px;width:9px;height:36px"></div>
<div class="sc" style="left:706px;top:20px;height:34px"></div>
<div class="tab">基本资料   曲线图   历史资料   初始设定</div>
<div class="y" style="left:484px;top:62px;width:117px;height:6px"></div>
<div class="dt" style="left:612px;top:62px"></div><div class="dt" style="left:631px;top:62px"></div>
<div class="lp"></div><div class="rp"></div>
<div class="cn">
 <div style="left:182px;top:72px;width:209px;height:25px;border:1px solid #999"></div>
 <div class="t" style="left:212px;top:76px;line-height:9px">座面厚度比例(%)
扶手厚度比例(%)</div>
 <div class="f" style="left:262px;top:76px;width:16px;height:7px"></div>
 <div style="left:262px;top:85px;width:16px;height:7px;background:#3a6ee8;border:1px solid #777"></div>
 <div style="left:182px;top:102px;width:209px;height:79px;border:1px solid #999"></div>
 <div class="t" style="left:185px;top:99px;background:#fff">测试项目</div>
 <div class="t" style="left:196px;top:111px;line-height:10.8px">◦ 座面耐久性及扶手/座面前沿耐久性测试
◦ 扶手侧向静载荷
◦ 扶手垂直向下静载荷及扶手侧向耐久性
◦ 靠背耐久性测试
◦ 椅背/座面耐久性及座面冲击测试
◦ 扶手/座面前沿耐久性测试及扶手侧向</div>
 <div class="b" style="left:256px;top:253px;width:60px;height:12px;border-color:#888;background:linear-gradient(#fff,#ddd);line-height:10px;font-size:5px">系统参数设定</div>
 <div class="b" style="left:328px;top:253px;width:60px;height:12px;border-color:#888;background:linear-gradient(#fff,#ddd);line-height:10px;font-size:5px">确定</div>
</div>
<div class="fr" style="left:4px;top:150px;width:68px;height:103px"></div>
<div class="q Q" style="left:7px;top:155px;width:59px"><p>0.0 N</p><p>264.6 N</p><p>-0.6 N</p><p>0.0 mm</p></div>
<div class="c" style="left:7px;top:203px;width:8px;height:47px"></div>
<div class="b" style="left:17px;top:203px;width:35px;height:10px">力值清零</div><div class="b" style="left:17px;top:215px;width:35px;height:10px">位移清零</div><div class="b" style="left:17px;top:227px;width:35px;height:10px">Push</div><div class="b" style="left:17px;top:239px;width:35px;height:10px">Pull</div>
<div class="sc" style="left:58px;top:204px;height:45px"></div>
<div class="fr" style="left:651px;top:150px;width:68px;height:103px"></div>
<div class="q Q" style="left:654px;top:155px;width:59px"><p>0.0 N</p><p>259.0 N</p><p>-0.2 N</p><p>0.0 mm</p></div>
<div class="c" style="left:654px;top:203px;width:8px;height:47px"></div>
<div class="b" style="left:664px;top:203px;width:35px;height:10px">力值清零</div><div class="b" style="left:664px;top:215px;width:35px;height:10px">位移清零</div><div class="b" style="left:664px;top:227px;width:35px;height:10px">Push</div><div class="b" style="left:664px;top:239px;width:35px;height:10px">Pull</div>
<div class="sc" style="left:705px;top:204px;height:45px"></div>
<div class="bb"></div>
<div class="q" style="left:3px;top:341px;width:40px"><p>0.0 N</p><p>0.0 N</p><p>0.0 mm</p><p>0.00</p></div>
<div class="b" style="left:45px;top:341px;width:10px;height:8px"></div><div class="b" style="left:45px;top:351px;width:10px;height:8px"></div>
<div class="c" style="left:58px;top:341px;width:6px;height:18px"></div><div class="c" style="left:66px;top:341px;width:6px;height:18px"></div>
<div class="t" style="left:228px;top:344px;line-height:9px">循环速度
位移速度
  ◦ 同步测试
  ◦ 自动开始</div>
<div class="f" style="left:250px;top:344px;width:18px;height:6px"></div>
<div class="f" style="left:250px;top:353px;width:18px;height:6px"></div>
<div class="t" style="left:288px;top:344px;line-height:9px">保持时间
保持时间</div>
<div class="f" style="left:310px;top:344px;width:18px;height:6px"></div>
<div class="g" style="left:310px;top:353px;width:18px;height:7px"></div>
<div style="left:290px;top:362px;width:84px;height:14px;border:1px solid #888"></div>
<div class="t" style="left:294px;top:366px">◉ 恒速控制      ◦ 定位控制</div>
<div style="left:377px;top:343px;width:76px;height:32px;background:#fff;border:1px solid #999"></div>
<div class="t" style="left:380px;top:344px;line-height:7.5px">   实测值   设定值   最大值
1   200.00   9.57    0.00
2   210.00   0.37    3.50
3   200.00   9.50    9.50</div>
<div class="t" style="left:460px;top:352px;line-height:9px">X测:
Y测:
Z测:</div>
<div class="g" style="left:478px;top:352px;width:17px;height:6px"></div>
<div class="g" style="left:478px;top:361px;width:17px;height:6px"></div>
<div class="g" style="left:478px;top:370px;width:17px;height:6px"></div>
<div style="left:620px;top:342px;width:30px;height:36px;border:1px solid #8d4d95"></div>
<div class="b" style="left:656px;top:342px;width:14px;height:10px"></div><div class="b" style="left:674px;top:342px;width:14px;height:10px"></div>
<div class="b" style="left:656px;top:355px;width:32px;height:9px"></div>
<div class="b" style="left:656px;top:367px;width:14px;height:10px"></div><div class="b" style="left:674px;top:367px;width:14px;height:10px"></div>
<div class="c" style="left:714px;top:342px;width:7px;height:36px"></div>
<div class="st">                                                                                                                    ▌运行中       ● 停止</div>
</div>

<!-- screenshot labels -->
<div class="a lab" style="left:1080px;top:1434px">历史测试资料库（左图）</div>
<div class="a lab" style="left:1273px;top:1581px">模式设定界面（左图）</div>
<div class="a lab" style="left:434px;top:1969px">结果数据界面（右图）</div>
<div class="a lab" style="left:630px;top:2114px">初始设定界面（右图）</div>

<!-- caption -->
<div class="a" style="left:842px;top:2276px;font-size:33px;line-height:40px;font-weight:bold;color:#000;font-family:'Liberation Sans','Noto Sans CJK SC',sans-serif;">电脑设置界面 展示</div>
<div class="a" style="left:342px;top:2335px;width:1275px;height:3px;background:#000"></div>

<!-- page number -->
<div class="a" style="left:951px;top:2599px;font-size:25px;line-height:30px;color:#111;transform:scaleX(.85);transform-origin:0 0;">69</div>
</body></html>
